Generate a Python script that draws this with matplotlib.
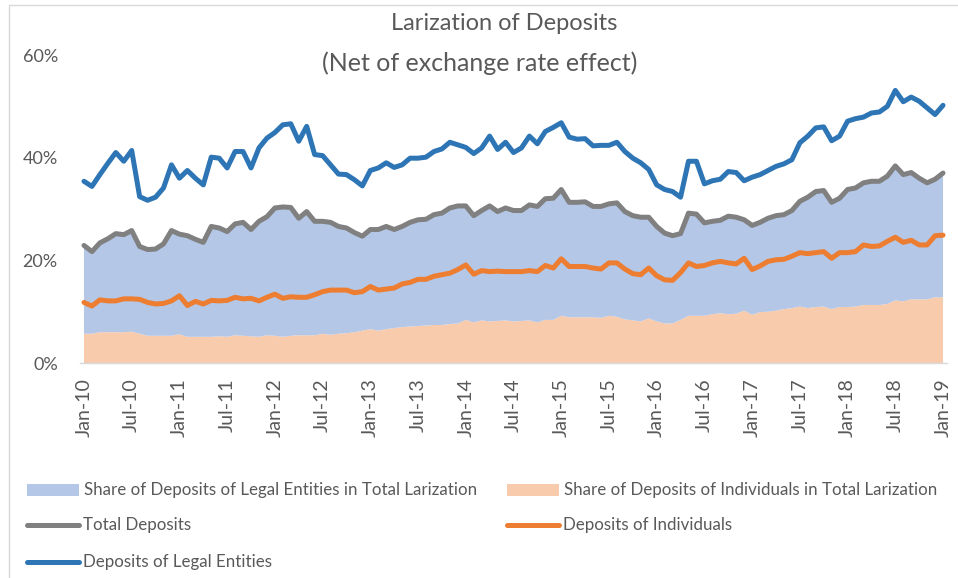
import numpy as np
import pandas as pd
import matplotlib
matplotlib.use("Agg")
import matplotlib.pyplot as plt
from matplotlib.patches import Rectangle
from matplotlib.lines import Line2D

# monthly observations, Jan-2010 .. Jan-2019 (percent of deposits in lari)
months = pd.date_range("2010-01-01", "2019-01-01", freq="MS")

legal_entities = [
    35.4, 34.4, 36.7, 38.9, 41.0, 39.3, 41.4, 32.4, 31.7, 32.3, 34.1, 38.6,
    36.0, 37.5, 36.0, 34.7, 40.1, 39.9, 38.0, 41.2, 41.2, 38.0, 41.9, 43.8,
    44.9, 46.4, 46.6, 43.2, 46.1, 40.6, 40.4, 38.6, 36.8, 36.7, 35.7, 34.5,
    37.5, 38.0, 39.0, 38.1, 38.6, 39.9, 39.9, 40.1, 41.2, 41.7, 43.0, 42.5,
    42.0, 40.8, 41.9, 44.2, 41.6, 43.0, 41.0, 41.9, 44.2, 42.7, 45.1, 45.9,
    46.8, 44.0, 43.6, 43.7, 42.3, 42.4, 42.4, 43.0, 41.2, 39.9, 39.0, 37.7,
    34.7, 33.8, 33.4, 32.3, 39.3, 39.3, 34.9, 35.5, 35.8, 37.3, 37.1, 35.5,
    36.2, 36.7, 37.5, 38.3, 38.8, 39.6, 42.9, 44.2, 45.8, 46.0, 43.3, 44.2,
    47.1, 47.6, 47.9, 48.7, 48.9, 50.0, 53.1, 50.9, 51.8, 51.0, 49.7, 48.4,
    50.2,
]

total_deposits = [
    22.9, 21.7, 23.4, 24.2, 25.2, 25.0, 25.8, 22.7, 22.1, 22.2, 23.2, 25.8,
    25.1, 24.8, 24.1, 23.5, 26.6, 26.3, 25.6, 27.1, 27.4, 26.0, 27.6, 28.5,
    30.2, 30.4, 30.3, 28.2, 29.5, 27.6, 27.6, 27.4, 26.6, 26.3, 25.4, 24.7,
    26.0, 26.0, 26.6, 26.0, 26.6, 27.4, 27.9, 28.0, 28.9, 29.2, 30.2, 30.6,
    30.6, 28.7, 29.7, 30.6, 29.5, 30.2, 29.7, 29.7, 30.8, 30.5, 32.0, 32.1,
    33.8, 31.3, 31.3, 31.4, 30.5, 30.5, 31.0, 31.2, 29.5, 28.7, 28.4, 28.4,
    26.6, 25.3, 24.8, 25.2, 29.2, 29.0, 27.3, 27.6, 27.8, 28.6, 28.4, 27.9,
    26.8, 27.4, 28.2, 28.7, 28.9, 29.7, 31.5, 32.3, 33.4, 33.6, 31.3, 32.1,
    33.8, 34.1, 35.1, 35.4, 35.4, 36.4, 38.4, 36.7, 37.1, 36.0, 35.1, 35.8,
    37.0,
]

individuals = [
    11.8, 11.1, 12.3, 12.1, 12.1, 12.5, 12.5, 12.4, 11.8, 11.5, 11.6, 12.1,
    13.1, 11.2, 12.0, 11.5, 12.2, 12.1, 12.2, 12.8, 12.5, 12.6, 12.1, 12.8,
    13.4, 12.6, 12.9, 12.8, 12.8, 13.3, 13.9, 14.2, 14.2, 14.2, 13.7, 13.9,
    14.9, 14.2, 14.4, 14.6, 15.4, 15.7, 16.3, 16.3, 16.9, 17.2, 17.5, 18.2,
    19.1, 17.3, 18.0, 17.8, 17.9, 17.8, 17.8, 17.8, 18.0, 17.8, 19.0, 18.5,
    20.3, 18.8, 18.8, 18.8, 18.5, 18.3, 19.5, 19.5, 18.3, 17.4, 17.2, 18.5,
    17.0, 16.2, 16.1, 17.6, 19.5, 18.8, 19.0, 19.5, 19.8, 19.5, 19.3, 20.4,
    18.2, 18.9, 19.8, 20.1, 20.2, 20.8, 21.5, 21.3, 21.5, 21.7, 20.4, 21.5,
    21.5, 21.7, 23.0, 22.7, 22.8, 23.7, 24.5, 23.5, 23.9, 23.0, 23.0, 24.8,
    24.9,
]

# contribution of individuals' deposits to total larization
share_individuals = [
    5.7, 5.7, 6.0, 6.0, 6.0, 6.0, 6.1, 5.7, 5.3, 5.3, 5.3, 5.3,
    5.6, 5.1, 5.1, 5.1, 5.1, 5.2, 5.1, 5.4, 5.3, 5.2, 5.1, 5.4,
    5.3, 5.1, 5.3, 5.4, 5.4, 5.4, 5.7, 5.5, 5.7, 5.8, 6.0, 6.3,
    6.6, 6.3, 6.6, 6.8, 7.0, 7.1, 7.2, 7.3, 7.4, 7.4, 7.6, 7.7,
    8.4, 7.9, 8.3, 8.1, 8.2, 8.3, 8.1, 8.2, 8.3, 7.9, 8.4, 8.4,
    9.2, 8.9, 8.9, 8.9, 8.9, 8.8, 9.2, 9.0, 8.5, 8.3, 8.1, 8.7,
    8.1, 7.7, 7.7, 8.4, 9.2, 9.2, 9.2, 9.5, 9.7, 9.5, 9.6, 10.2,
    9.4, 9.9, 10.0, 10.2, 10.5, 10.7, 11.0, 10.7, 10.9, 11.0, 10.5, 10.9,
    10.9, 11.0, 11.3, 11.3, 11.3, 11.5, 12.2, 12.0, 12.4, 12.4, 12.4, 12.8,
    12.8,
]

tick_labels = ["Jan-10", "Jul-10", "Jan-11", "Jul-11", "Jan-12", "Jul-12",
               "Jan-13", "Jul-13", "Jan-14", "Jul-14", "Jan-15", "Jul-15",
               "Jan-16", "Jul-16", "Jan-17", "Jul-17", "Jan-18", "Jul-18",
               "Jan-19"]

C_LEGAL = "#2E75B6"
C_TOTAL = "#808080"
C_INDIV = "#ED7D31"
C_AREA_LEGAL = "#B4C7E7"
C_AREA_INDIV = "#F8CBAD"
C_TEXT = "#595959"
FONT = ["Lato", "DejaVu Sans"]

plt.rcParams["font.family"] = FONT

W, H = 958, 578
fig = plt.figure(figsize=(W / 100, H / 100), dpi=100)
ax = fig.add_axes([80 / W, 1 - 363 / H, 867 / W, (363 - 55) / H])

x = np.arange(len(months))
share_ind = np.array(share_individuals)
# legal entities' share is what remains of the total after individuals
share_leg = np.array(total_deposits) - share_ind

ax.stackplot(x, share_ind, share_leg,
             colors=[C_AREA_INDIV, C_AREA_LEGAL], linewidth=0)

line_kw = dict(lw=3.6, solid_joinstyle="round", solid_capstyle="round")
ax.plot(x, total_deposits, color=C_TOTAL, **line_kw)
ax.plot(x, individuals, color=C_INDIV, **line_kw)
ax.plot(x, legal_entities, color=C_LEGAL, **line_kw)

ax.set_xlim(-0.5, len(x) - 0.5)
ax.set_ylim(0, 60)
ax.set_yticks([0, 20, 40, 60])
ax.set_yticklabels(["0%", "20%", "40%", "60%"])
ax.set_xticks(x[::6])
ax.set_xticklabels(tick_labels, rotation=90, va="top", ha="center")

ax.tick_params(axis="y", length=0, pad=16, labelsize=13, labelcolor=C_TEXT)
ax.tick_params(axis="x", length=0, pad=11, labelsize=14, labelcolor=C_TEXT)
for side in ("top", "right", "left"):
    ax.spines[side].set_visible(False)
ax.spines["bottom"].set_color("#D9D9D9")
ax.spines["bottom"].set_linewidth(1.0)
ax.patch.set_alpha(0)

fig.text(504 / W, 1 - 24 / H, "Larization of Deposits", ha="center",
         va="center", fontsize=17, color=C_TEXT)
fig.text(480 / W, 1 - 63 / H, "(Net of exchange rate effect)", ha="center",
         va="center", fontsize=18, color=C_TEXT)

# chart border
fig.add_artist(Rectangle((8.5 / W, -0.05), 1.2, 1 - 5.5 / H + 0.05,
                         transform=fig.transFigure, fill=False,
                         edgecolor="#D9D9D9", lw=1.0))


def legend_entry(x0, y0, kind, color, label):
    """Draw one legend key (patch or line) with its label, pixel coords."""
    yf = 1 - y0 / H
    if kind == "patch":
        fig.add_artist(Rectangle((x0 / W, yf - 6 / H), 52 / W, 12 / H,
                                 transform=fig.transFigure, color=color, lw=0))
    else:
        fig.add_artist(Line2D([(x0 + 1) / W, (x0 + 53) / W], [yf, yf],
                              transform=fig.transFigure, color=color,
                              lw=3.6, solid_capstyle="round"))
    fig.text((x0 + 57) / W, yf, label, ha="left", va="center",
             fontsize=12.2, color=C_TEXT)


legend_entry(27, 490, "patch", C_AREA_LEGAL,
             "Share of Deposits of Legal Entities in Total Larization")
legend_entry(507, 490, "patch", C_AREA_INDIV,
             "Share of Deposits of Individuals in Total Larization")
legend_entry(26, 525, "line", C_TOTAL, "Total Deposits")
legend_entry(506, 525, "line", C_INDIV, "Deposits of Individuals")
legend_entry(26, 562, "line", C_LEGAL, "Deposits of Legal Entities")

fig.savefig("out.png", dpi=100)
